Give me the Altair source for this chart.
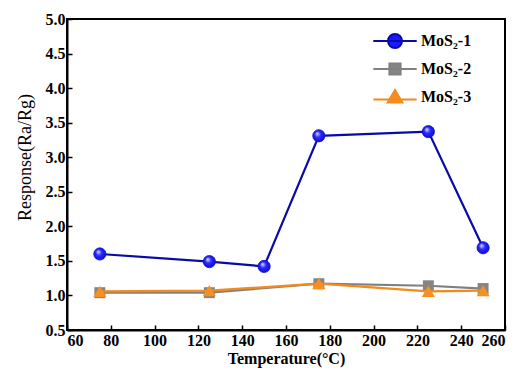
import altair as alt
import pandas as pd

series_names = ["MoS₂-1", "MoS₂-2", "MoS₂-3"]
temps_1 = [75, 125, 150, 175, 225, 250]
resp_1 = [1.60, 1.49, 1.42, 3.31, 3.37, 1.69]
temps_23 = [75, 125, 175, 225, 250]
resp_2 = [1.04, 1.04, 1.17, 1.14, 1.10]
resp_3 = [1.06, 1.07, 1.17, 1.06, 1.07]

x_ticks = list(range(60, 261, 20))
y_ticks = [0.5, 1.0, 1.5, 2.0, 2.5, 3.0, 3.5, 4.0, 4.5, 5.0]

rows = []
for t, r in zip(temps_1, resp_1):
    rows.append({"T": t, "R": r, "series": series_names[0]})
for t, r in zip(temps_23, resp_2):
    rows.append({"T": t, "R": r, "series": series_names[1]})
for t, r in zip(temps_23, resp_3):
    rows.append({"T": t, "R": r, "series": series_names[2]})
df = pd.DataFrame(rows)

FONT = "Liberation Serif"
line_colors = ["#0a0aa8", "#808080", "#f28a1c"]
pt_colors = ["#1a1aff", "#858585", "#f7901e"]

x_enc = alt.X("T:Q", scale=alt.Scale(domain=[60, 260], nice=False),
              axis=alt.Axis(values=x_ticks, title="Temperature(°C)", grid=False,
                            tickSize=alt.ExprRef("-5"), labelPadding=7,
                            labelFont=FONT, labelFontWeight="bold", labelFontSize=16, labelColor="black",
                            titleFont=FONT, titleColor="black",
                            titleFontWeight="bold", titleFontSize=16, titlePadding=2))
y_enc = alt.Y("R:Q", scale=alt.Scale(domain=[0.5, 5.0], nice=False),
              axis=alt.Axis(values=y_ticks, format=".1f", title="Response(Ra/Rg)", grid=False,
                            tickSize=alt.ExprRef("-5"), labelPadding=7,
                            labelFont=FONT, labelFontWeight="bold", labelFontSize=16, labelColor="black",
                            titleFont=FONT, titleColor="black",
                            titleFontWeight="normal", titleFontSize=18,
                            titleX=-37, titleY=138, titleBaseline="alphabetic", titleAngle=270))

base = alt.Chart(df)

sphere = alt.RadialGradient(
    gradient="radial", x1=0.35, y1=0.3, r1=0.0, x2=0.5, y2=0.5, r2=0.55,
    stops=[alt.GradientStop(color="#e8ecff", offset=0.0),
           alt.GradientStop(color="#2a2aff", offset=0.45),
           alt.GradientStop(color="#0a0ac8", offset=1.0)])

layers = []
shapes = ["circle", "square", "triangle-up"]
sizes = [150, 120, 170]
for i, name in enumerate(series_names):
    sub = base.transform_filter(alt.datum.series == name)
    layers.append(sub.mark_line(color=line_colors[i], strokeWidth=2.2).encode(x=x_enc, y=y_enc))
    if i == 0:
        layers.append(sub.mark_point(shape="circle", filled=True, fill=sphere, opacity=1,
                                     size=sizes[i], stroke="#1010d0", strokeWidth=0.8)
                      .encode(x=x_enc, y=y_enc))
    else:
        layers.append(sub.mark_point(shape=shapes[i], filled=True, color=pt_colors[i], opacity=1,
                                     size=sizes[i]).encode(x=x_enc, y=y_enc))

legend_paths = [
    "M-3.1,0H3.1M-1,0A1,1 0 1,0 1,0A1,1 0 1,0 -1,0Z",
    "M-3.1,0H3.1M-0.8,-0.8H0.8V0.8H-0.8Z",
    "M-3.1,0.35H3.1M0,-1L1.05,0.8H-1.05Z",
]
leg = alt.Legend(title=None, orient="none", legendX=320, legendY=14,
                 labelFont=FONT, labelFontWeight="bold", labelFontSize=16, labelColor="black",
                 symbolSize=196, symbolStrokeWidth=2, labelOffset=18, rowPadding=7, padding=0)
legend_layer = base.transform_filter("false").mark_point(filled=True, opacity=1).encode(
    x=x_enc, y=y_enc,
    fill=alt.Fill("series:N", scale=alt.Scale(domain=series_names, range=pt_colors), legend=leg),
    stroke=alt.Stroke("series:N", scale=alt.Scale(domain=series_names, range=line_colors), legend=leg),
    shape=alt.Shape("series:N", scale=alt.Scale(domain=series_names, range=legend_paths), legend=leg),
)
layers.append(legend_layer)

chart = alt.layer(*layers).properties(
    width=438, height=311,
    background="white",
    autosize=alt.AutoSizeParams(type="none"),
    padding={"left": 59, "top": 11, "right": 5, "bottom": 40},
).configure_view(stroke="black", strokeWidth=2).configure_axis(
    domainColor="black", domainWidth=2, tickColor="black", tickWidth=1.5,
    labelFont=FONT, labelFontWeight="bold", labelFontSize=16, labelColor="black",
    titleFont=FONT, titleColor="black",
)

chart.save("out.html", embed_options={"renderer": "svg", "actions": False})
